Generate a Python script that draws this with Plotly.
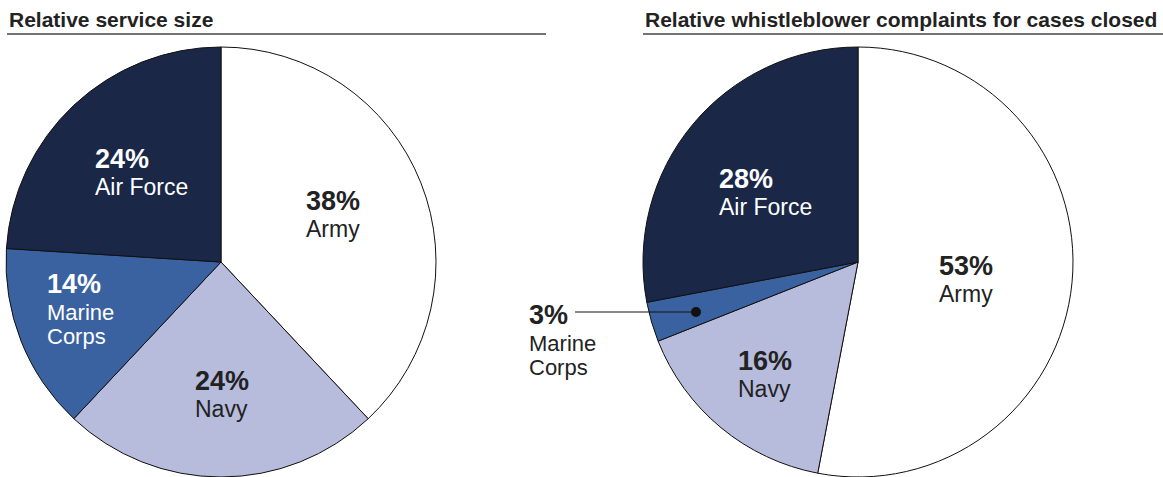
import plotly.graph_objects as go

W, H = 1163, 477

services = ["Army", "Navy", "Marine Corps", "Air Force"]
service_size = [38, 24, 14, 24]
complaints = [53, 16, 3, 28]
colors = ["#ffffff", "#b8bcdc", "#3a62a0", "#1a2747"]
label_colors = ["#222222", "#222222", "#ffffff", "#ffffff"]
label_lines = [["Army"], ["Navy"], ["Marine", "Corps"], ["Air Force"]]
titles = ["Relative service size", "Relative whistleblower complaints for cases closed"]

FONT = "Liberation Sans, Arial, sans-serif"


def px(x):
    return x / W


def py(y):
    return 1 - y / H


fig = go.Figure()

domains = [
    dict(x=[px(6), px(436)], y=[0, py(47)]),
    dict(x=[px(643), px(1073)], y=[0, py(47)]),
]

for vals, dom, name in zip([service_size, complaints], domains, titles):
    fig.add_trace(go.Pie(
        labels=services,
        values=vals,
        sort=False,
        direction="clockwise",
        rotation=0,
        textinfo="none",
        marker=dict(colors=colors, line=dict(color="#111111", width=1)),
        domain=dom,
        name=name,
        showlegend=False,
        hovertemplate="%{label}: %{value}%<extra></extra>",
    ))

# label anchor positions (left x, percent-line center y) in pixels
label_pos = [
    [(304, 201), (193, 381), (45, 284), (93, 159)],
    [(937, 266), (736, 361), (527, 315), (717, 179)],
]
label_fg = [label_colors, [label_colors[0], label_colors[1], "#222222", label_colors[3]]]

annotations = []
for vals, poss, fgs in zip([service_size, complaints], label_pos, label_fg):
    for v, lines, (x, y), c in zip(vals, label_lines, poss, fgs):
        annotations.append(dict(
            x=px(x), y=py(y), xref="paper", yref="paper",
            xanchor="left", yanchor="middle", showarrow=False,
            text=f"<b>{v}%</b>", font=dict(family=FONT, size=27, color=c),
        ))
        multi = len(lines) > 1
        for i, ln in enumerate(lines):
            annotations.append(dict(
                x=px(x), y=py(y + 28 + 24 * i), xref="paper", yref="paper",
                xanchor="left", yanchor="middle", showarrow=False,
                text=ln, font=dict(family=FONT, size=22 if multi else 23, color=c),
            ))

# titles
annotations.append(dict(x=px(7), y=py(19), xref="paper", yref="paper",
                        xanchor="left", yanchor="middle", showarrow=False,
                        text=f"<b>{titles[0]}</b>",
                        font=dict(family=FONT, size=21, color="#222222")))
annotations.append(dict(x=px(1159), y=py(19), xref="paper", yref="paper",
                        xanchor="right", yanchor="middle", showarrow=False,
                        text=f"<b>{titles[1]}</b>",
                        font=dict(family=FONT, size=21, color="#222222")))

shapes = [
    dict(type="line", xref="paper", yref="paper", x0=px(7), x1=px(546), y0=py(34), y1=py(34),
         line=dict(color="#444444", width=1.5)),
    dict(type="line", xref="paper", yref="paper", x0=px(643), x1=px(1163), y0=py(34), y1=py(34),
         line=dict(color="#444444", width=1.5)),
    # leader line for small Marine Corps slice
    dict(type="line", xref="paper", yref="paper", x0=px(575), x1=px(696), y0=py(312), y1=py(312),
         line=dict(color="#111111", width=1.2)),
    dict(type="circle", xref="paper", yref="paper", x0=px(691), x1=px(701), y0=py(307), y1=py(317),
         fillcolor="#111111", line=dict(color="#111111", width=0)),
]

fig.update_layout(
    width=W, height=H,
    margin=dict(l=0, r=0, t=0, b=0),
    paper_bgcolor="white", plot_bgcolor="white",
    annotations=annotations, shapes=shapes,
    font=dict(family=FONT),
)

fig.write_html(
    "out.html",
    config={"displayModeBar": False},
    post_script="document.body.style.margin='0';document.body.style.overflow='hidden';",
)
